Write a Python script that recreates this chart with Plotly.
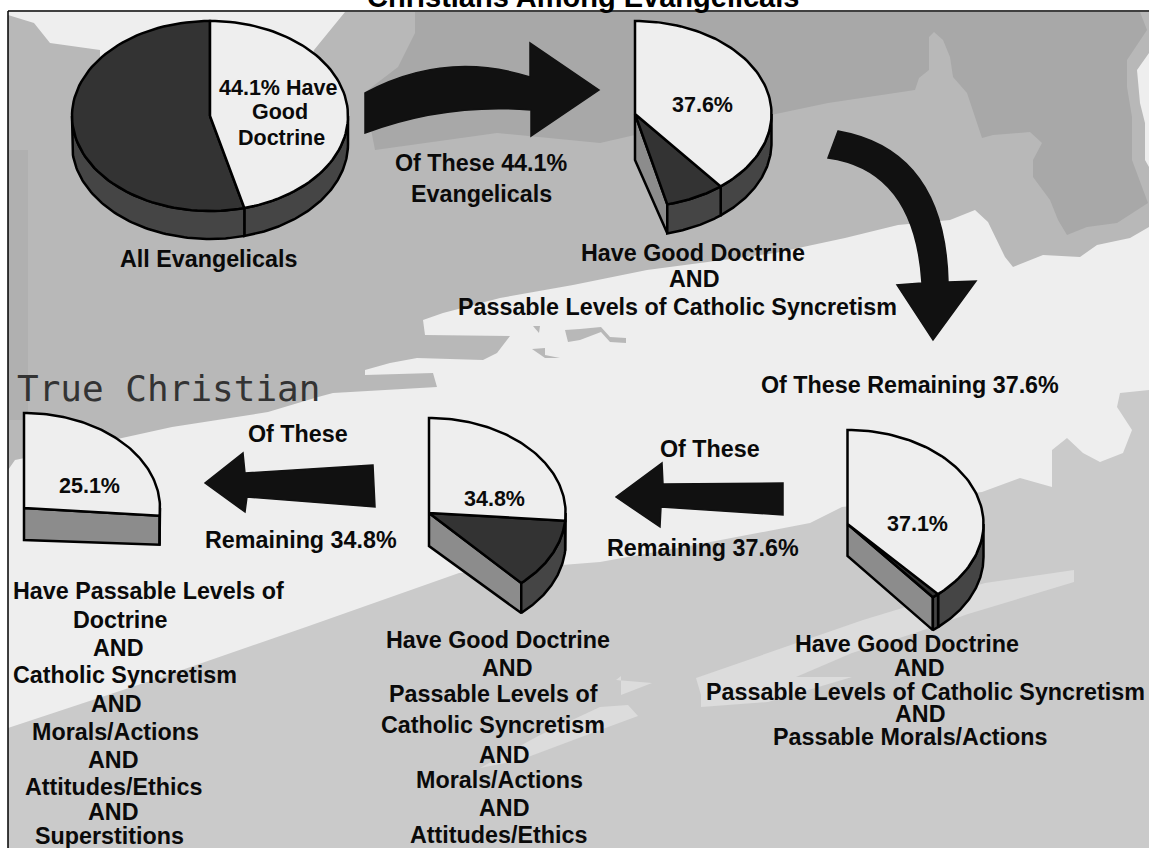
import numpy as np
import plotly.graph_objects as go

# shares of each pie as drawn (percent of the full circle)
white_shares = [46.0, 39.2, 38.4, 26.3, 26.3]
dark_shares = [54.0, 7.0, 0.8, 11.9, 0.0]

# pie placement: centre x, centre y, rx, ry, rim depth, depth of the cut at the centre
pie_boxes = [
    (210, 116, 138, 95, 28, 28),
    (635, 114, 136.5, 93, 29, 46),
    (847.5, 524, 136, 94, 33, 32),
    (429, 513, 136.6, 95, 30, 33),
    (24, 508, 136, 95, 29, 32),
]

pie_labels = [
    ("44.1% Have", 278, 88), ("Good", 280, 112), ("Doctrine", 281, 138),
    ("37.6%", 702, 105), ("34.8%", 494, 499), ("37.1%", 917, 524), ("25.1%", 89, 486),
]

labels = [
    ("Of These 44.1%", 481, 163), ("Evangelicals", 481, 194),
    ("All Evangelicals", 208, 259),
    ("Have Good Doctrine", 693, 253), ("AND", 694, 279),
    ("Passable Levels of Catholic Syncretism", 677, 307),
    ("Of These Remaining 37.6%", 910, 385),
    ("Of These", 298, 434), ("Remaining 34.8%", 301, 540),
    ("Of These", 710, 449), ("Remaining 37.6%", 703, 548),
    ("Have Passable Levels of", 148, 591), ("Doctrine", 120, 620), ("AND", 118, 648),
    ("Catholic Syncretism", 125, 675), ("AND", 116, 704), ("Morals/Actions", 115, 732),
    ("AND", 113, 760), ("Attitudes/Ethics", 113, 787), ("AND", 113, 812),
    ("Superstitions", 109, 836),
    ("Have Good Doctrine", 498, 640), ("AND", 507, 668), ("Passable Levels of", 493, 694),
    ("Catholic Syncretism", 493, 725), ("AND", 504, 755), ("Morals/Actions", 499, 780),
    ("AND", 504, 808), ("Attitudes/Ethics", 498, 835),
    ("Have Good Doctrine", 907, 644), ("AND", 919, 668),
    ("Passable Levels of Catholic Syncretism", 925, 692), ("AND", 920, 714),
    ("Passable Morals/Actions", 910, 737),
]

WHITE = "#eeeeee"
MID = "#b8b8b8"
DARK_BG = "#a8a8a8"
LOW = "#cacaca"

mid_zone = [(8, 12), (1149, 12), (1149, 227), (1130, 238), (1097, 245), (1080, 257), (1043, 255),
            (1013, 267), (1005, 257), (988, 222), (975, 210), (950, 220), (898, 225), (845, 238),
            (775, 253), (700, 263), (647, 270), (573, 285), (500, 298), (443, 313), (423, 320),
            (425, 335), (510, 336), (497, 353), (483, 360), (417, 358), (390, 363), (365, 370),
            (365, 375), (433, 373), (437, 387), (333, 393), (318, 397), (268, 412), (172, 427),
            (122, 438), (15, 460), (8, 470)]
upper_zone = [(415, 12), (1140, 12), (1147, 30), (1127, 60), (1127, 87), (1132, 117), (1132, 160),
              (1148, 203), (1117, 223), (1087, 227), (1067, 235), (1058, 220), (1050, 200),
              (1033, 177), (1033, 160), (1042, 143), (1030, 132), (993, 135), (982, 138),
              (975, 117), (967, 93), (953, 77), (950, 57), (943, 40), (934, 32), (929, 37),
              (929, 70), (919, 78), (915, 90), (828, 103), (771, 115), (635, 135), (600, 143),
              (497, 133), (375, 150), (364, 93), (398, 67), (415, 33)]
top_left_cap = [(8, 12), (345, 12), (314, 50), (300, 120), (100, 120), (100, 50), (50, 43), (34, 23), (8, 15)]
right_blob = [(1149, 53), (1137, 70), (1140, 103), (1145, 123), (1145, 160), (1149, 167)]
left_strip = [(8, 150), (28, 150), (28, 420), (8, 420)]
low_zone = [(1149, 390), (1120, 393), (1117, 407), (1132, 430), (1123, 453), (1100, 462), (1083, 453),
            (1067, 438), (1052, 450), (1052, 487), (1020, 478), (982, 492), (842, 507), (810, 523),
            (705, 543), (600, 562), (459, 573), (306, 627), (153, 680), (11, 727), (8, 728), (8, 848),
            (1149, 848)]
streak = [(696, 678), (863, 620), (985, 583), (1074, 570), (1074, 582), (968, 614), (915, 633),
          (852, 653), (796, 677), (852, 677), (768, 702), (701, 707), (701, 695)]
patch1 = [(616, 680), (652, 683), (621, 695), (621, 676)]
patch2 = [(600, 707), (628, 705), (638, 716), (600, 730), (560, 745), (520, 760), (480, 768), (540, 735)]
specks = [[(565, 330), (580, 329), (601, 327), (610, 337), (626, 338), (626, 343), (610, 342),
           (601, 332), (580, 340), (568, 342)],
          [(533, 326), (540, 326), (539, 333)], [(532, 349), (545, 348), (545, 355), (560, 358), (545, 358)]]

arrows = [
    "M365,93 Q445,50 530,77 L530,43 L599,90 L531,136 L531,110 Q445,103 365,133 Z",
    "M838,131 Q945,150 948,282 L976,281 L933,340 L897,285 L922,283 Q915,170 828,158 Z",
    "M373,465 L245,473 L243,453 L205,483 L245,512 L247,497 L375,507 Z",
    "M783,483 L663,484 L662,463 L616,497 L660,527 L661,507 L783,515 Z",
]


def to_path(points):
    return "M" + " L".join(f"{x},{y}" for x, y in points) + " Z"


def arc(box, t0, t1, drop=0):
    cx, cy, rx, ry = box[:4]
    t = np.radians(np.linspace(t0, t1, 80))
    return cx + rx * np.sin(t), cy - ry * np.cos(t) + drop


def add_poly(fig, xs, ys, color):
    fig.add_trace(go.Scatter(x=xs, y=ys, mode="lines", fill="toself", fillcolor=color,
                             line=dict(color="black", width=2.5), hoverinfo="skip", showlegend=False))


def label(t, x, y, size):
    return dict(x=x, y=y, text=f"<b>{t}</b>", showarrow=False, xanchor="center", yanchor="middle",
                font=dict(family="Liberation Sans", size=size, color="#0a0a0a"))


shapes = [dict(type="rect", x0=8, y0=12, x1=1149, y1=848, fillcolor=WHITE, line_width=0, layer="below")]
for pts, col in [(mid_zone, MID), (upper_zone, DARK_BG), (top_left_cap, WHITE), (right_blob, WHITE),
                 (left_strip, "#b0b0b0"), (low_zone, LOW), (streak, "#dcdcdc"), (patch1, "#dcdcdc"),
                 (patch2, "#dcdcdc")]:
    shapes.append(dict(type="path", path=to_path(pts), fillcolor=col, line_width=0, layer="below"))
for pts in specks:
    shapes.append(dict(type="path", path=to_path(pts), fillcolor=MID, line_width=0, layer="below"))
for p in arrows:
    shapes.append(dict(type="path", path=p, fillcolor="#111111",
                       line=dict(color="#111111", width=1.5), layer="below"))
shapes.append(dict(type="line", x0=8, y0=11, x1=1149, y1=11, line=dict(color="black", width=1.5)))
shapes.append(dict(type="line", x0=8, y0=11, x1=8, y1=848, line=dict(color="black", width=1.5)))

fig = go.Figure()

for box, white, dark in zip(pie_boxes, white_shares, dark_shares):
    cx, cy, rx, ry, depth, cut = box
    t_white = white * 3.6
    t_dark = (white + dark) * 3.6

    # cut face, only when part of the pie is missing
    if white + dark < 100:
        ex, ey = arc(box, t_dark, t_dark)
        add_poly(fig, [cx, ex[0], ex[0], cx, cx], [cy, ey[0], ey[0] + depth, cy + cut, cy], "#8c8c8c")

    # outer rim, front half only
    for t0, t1 in [(90, t_white), (t_white, min(t_dark, 270))]:
        if t1 > t0:
            xa, ya = arc(box, t0, t1)
            xb, yb = arc(box, t0, t1, depth)
            add_poly(fig, np.r_[xa, xb[::-1], xa[0]], np.r_[ya, yb[::-1], ya[0]], "#454545")

    # top faces
    if dark > 0:
        xd, yd = arc(box, t_white, t_dark)
        add_poly(fig, np.r_[cx, xd, cx], np.r_[cy, yd, cy], "#333333")
    xw, yw = arc(box, 0, t_white)
    add_poly(fig, np.r_[cx, xw, cx], np.r_[cy, yw, cy], WHITE)

annotations = [label(t, x, y, 21.5) for t, x, y in pie_labels]
annotations += [label(t, x, y, 23.3) for t, x, y in labels]
annotations.append(dict(x=15, y=388, text="True Christian", showarrow=False, xanchor="left", yanchor="middle",
                        font=dict(family="DejaVu Sans Mono", size=36, color="#333333")))
# the title sits half off the top of the page, as in the source picture
annotations.append(dict(x=0.507, y=1, xref="paper", yref="paper", text="<b>Christians Among Evangelicals</b>",
                        showarrow=False, xanchor="center", yanchor="middle", yshift=3,
                        font=dict(family="Liberation Sans", size=29, color="black")))

fig.update_layout(
    width=1149, height=848, margin=dict(l=0, r=0, t=0, b=0),
    paper_bgcolor="white", plot_bgcolor="white", showlegend=False,
    xaxis=dict(range=[0, 1149], visible=False, fixedrange=True),
    yaxis=dict(range=[848, 0], visible=False, fixedrange=True),
    shapes=shapes, annotations=annotations,
)

fig.write_html("out.html", config=dict(displayModeBar=False),
               post_script="document.body.style.margin='0';document.body.style.overflow='hidden';")
